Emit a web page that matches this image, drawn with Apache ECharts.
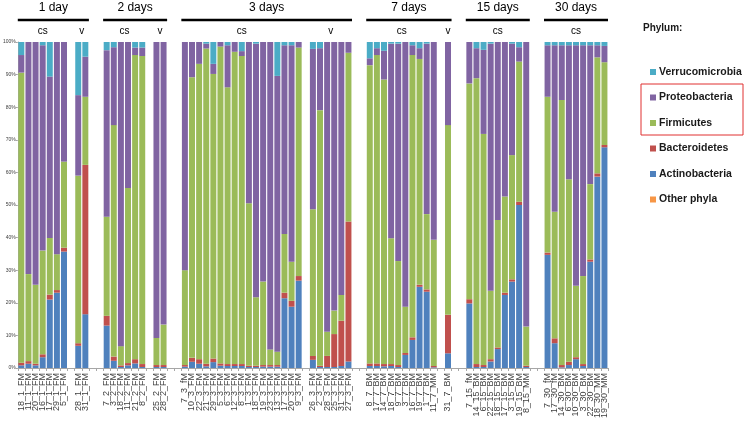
<!DOCTYPE html>
<html><head><meta charset="utf-8">
<script src="https://cdn.jsdelivr.net/npm/echarts@6/dist/echarts.min.js"></script>
<style>html,body{margin:0;padding:0;background:#fff}#c{width:745px;height:421px}</style>
</head><body><div id="c"></div>
<script>
// ---- group structure ----
const groupTitles = ['1 day', '2 days', '3 days', '7 days', '15 days', '30 days'];
const day1cs = ['18_1_FM','11_1_FM','20_1_FM','16_1_FM','17_1_FM','29_1_FM','5_1_FM'];
const day1v = ['28_1_FM','31_1_FM'];
const day2cs = ['7_2_FM','3_2_FM','18_2_FM','11_2_FM','21_2_FM','8_2_FM'];
const day2v = ['25_2_FM','28_2_FM'];
const day3cs = ['7_3_fM','10_3_FM','22_3_FM','21_3_FM','29_3_FM','5_3_FM','6_3_FM','12_3_FM','8_3_FM','1_3_FM','18_3_FM','19_3_FM','23_3_FM','13_3_FM','17_3_FM','20_3_FM','9_3_FM'];
const day3v = ['26_3_FM','2_3_FM','28_3_FM','25_3_FM','31_3_FM','27_3_FM'];
const day7cs = ['8_7_BM','17_7_BM','14_7_BM','18_7_BM','9_7_BM','3_7_BM','16_7_BM','19_7_BM','1_7_BM','11_7_MM'];
const day7v = ['31_7_BM'];
const day15cs = ['7_15_fM','14_15_BM','6_15_BM','22_15_BM','18_15_BM','17_15_BM','3_15_BM','19_15_BM','8_15_MM'];
const day30cs = ['7_30_fM','17_30_fM','14_30_BM','6_30_BM','10_30_BM','3_30_BM','22_30_BM','18_30_MM','19_30_MM'];
const subgroups = [
  [0,'cs',day1cs],[0,'v',day1v],[1,'cs',day2cs],[1,'v',day2v],[2,'cs',day3cs],[2,'v',day3v],
  [3,'cs',day7cs],[3,'v',day7v],[4,'cs',day15cs],[5,'cs',day30cs]
];

// ---- relative abundance (%) per sample, in sample order ----
const otherPhyla = [
  0,0,0,0,0,0,0, 0,0,
  0,0,0,0,0,0, 0,0,
  0,0,0,0,0,0,0,0,0,0,0,0,0,0,0,0,0, 0,0,0,0,0,0,
  0,0,0,0,0,0,0,0,0,0, 0,
  0,0,0,0,0,0,0,0,0,
  0,0,0,0,0,0,0,0,0];
const actinobacteria = [
  0.8,1.3,0.8,3.3,21,23.1,35.7, 6.8,16.5,
  13,2.2,0.3,0.8,1.4,0.3, 0.3,0.3,
  0.4,1.9,1.3,0.5,1.8,0.7,0.6,0.6,0.6,0.3,0.3,0.4,0.4,0.4,21.4,18.8,26.8, 2.5,0.3,0.3,0.3,0.6,2,
  0.6,0.6,0.5,0.6,0.3,4,8.6,24.9,23.4,0.2, 4.5,
  19.8,0.3,0.3,2,5.8,22.4,26.5,50,0.3,
  34.7,7.6,0.2,0.9,2.7,0.6,32.6,58.7,67.7];
const bacteroidetes = [
  0.8,0.8,0.5,0.9,1.5,0.8,1.2, 0.8,45.8,
  3,1.3,0.5,0.7,1.3,0.9, 0.6,0.6,
  0.5,1.2,1.4,0.8,1.1,0.7,0.6,0.6,0.6,0.4,0.4,0.5,0.5,0.5,1.7,1.8,1.4, 1.2,0.4,3.4,10.1,13.9,42.9,
  0.8,0.8,0.7,0.6,0.6,0.6,0.8,0.6,0.7,0.4, 11.8,
  1.3,0.9,0.6,0.7,0.5,0.7,0.7,1,0.4,
  0.7,1.5,0.7,1,0.6,0.6,0.7,1,0.7];
const firmicutes = [
  89,26.7,24.2,31.8,17.4,11,26.4, 51.4,20.9,
  30.4,71,5.9,53.7,93.3,94.5, 8.3,12.4,
  29.1,86.1,90.6,96.7,87.3,97.2,84.9,95.8,94.5,49.8,21,25.6,4.8,4.1,18,12,70.1, 45,78.4,7.4,7.2,7.9,51.8,
  91.5,94.6,87.3,38.6,31.9,14.2,86.6,69.3,23.1,38.7, 58.2,
  66.2,87.7,70.9,21,39.1,29.5,38.1,43,12,
  47.8,38.8,81.3,56,21.9,27,23.1,35.6,25.4];
const proteobacteria = [
  5.4,71.2,74.5,63,49.5,65.1,36.7, 24.7,12.3,
  51.1,23.9,93.3,44.8,2.3,2.6, 90.8,86.7,
  70,10.8,6.7,1.5,3.1,1.4,12.9,3,1.5,49.5,77.8,73.5,94.3,84.6,57.9,66.4,1.7, 49.2,19,88.9,82.4,77.6,3.3,
  2.1,2.1,8.8,59.7,66.7,81.2,3,3.3,52.3,60.7, 25.5,
  12.7,9.2,25.8,75.8,54.6,47.4,34.2,4.4,87.3,
  15.8,51.1,16.8,41.1,73.8,70.8,42.6,3.7,5];
const verrucomicrobia = [
  4,0,0,1,10.6,0,0, 16.3,4.5,
  2.5,1.6,0,0,1.7,1.7, 0,0,
  0,0,0,0.5,6.7,0,1,0,2.8,0,0.5,0,0,10.4,1,1,0, 2.1,1.9,0,0,0,0,
  5,1.9,2.7,0.5,0.5,0,1,1.9,0.5,0, 0,
  0,1.9,2.4,0.5,0,0,0.5,1.6,0,
  1,1,1,1,1,1,1,1,1.2];
const yTicks = [0,10,20,30,40,50,60,70,80,90,100];

const seriesDefs = [
  ['Other phyla', otherPhyla, '#f79646'],
  ['Actinobacteria', actinobacteria, '#4f81bd'],
  ['Bacteroidetes', bacteroidetes, '#c0504d'],
  ['Firmicutes', firmicutes, '#9bbb59'],
  ['Proteobacteria', proteobacteria, '#8064a2'],
  ['Verrucomicrobia', verrucomicrobia, '#4bacc6']
];

// ---- build category axis with empty gap slots ----
const cats = [];
const sampleSlot = [];
const subRanges = [];
let gapId = 0;
subgroups.forEach((sg, k) => {
  if (k > 0) {
    const nGap = subgroups[k-1][0] === sg[0] ? 1 : 2;
    for (let i = 0; i < nGap; i++) cats.push('__gap' + (gapId++));
  }
  const first = cats.length;
  sg[2].forEach(s => { sampleSlot.push(cats.length); cats.push(s); });
  subRanges.push([first, cats.length - 1]);
});
function expand(vals) {
  const out = cats.map(() => '-');
  vals.forEach((v, i) => { out[sampleSlot[i]] = v; });
  return out;
}

const FONT = "'Liberation Sans', Arial, sans-serif";
const chart = echarts.init(document.getElementById('c'), null, {renderer: 'canvas'});
const option = {
  animation: false,
  backgroundColor: '#fff',
  grid: {left: 13, right: 137, top: 42, bottom: 53, containLabel: false},
  xAxis: {
    type: 'category', data: cats,
    axisLine: {lineStyle: {color: '#a6a6a6', width: 1}},
    axisTick: {show: true, interval: 0, length: 3, lineStyle: {color: '#a6a6a6'}},
    axisLabel: {
      interval: 0, rotate: 90, margin: 5, fontSize: 9, color: '#404040', fontFamily: FONT,
      formatter: v => v.indexOf('__gap') === 0 ? '' : v
    }
  },
  yAxis: {
    type: 'value', min: 0, max: 100, interval: 10,
    axisLine: {show: true, lineStyle: {color: '#a6a6a6'}},
    axisTick: {show: true, length: 2, lineStyle: {color: '#a6a6a6'}},
    splitLine: {show: false},
    axisLabel: {fontSize: 5, color: '#404040', margin: 2, fontFamily: FONT,
      formatter: v => yTicks.indexOf(v) >= 0 ? v + '%' : ''}
  },
  legend: {
    orient: 'vertical', left: 645, top: 60,
    data: ['Verrucomicrobia', 'Proteobacteria', 'Firmicutes', 'Bacteroidetes', 'Actinobacteria', 'Other phyla'],
    itemWidth: 6, itemHeight: 6, itemGap: 11.5, icon: 'rect',
    textStyle: {fontSize: 10.5, fontWeight: 'bold', color: '#1a1a1a', fontFamily: FONT, lineHeight: 14, padding: [0,0,0,-2]}
  },
  series: seriesDefs.map(([name, vals, color]) => ({
    name, type: 'bar', stack: 'phyla', data: expand(vals),
    barCategoryGap: '16%',
    itemStyle: {color},
    emphasis: {disabled: true}
  }))
};
chart.setOption(option);

// ---- header annotations placed from the axis scale ----
const px = i => chart.convertToPixel({xAxisIndex: 0}, i);
const half = (px(1) - px(0)) / 2;
const gfx = [];
groupTitles.forEach((t, g) => {
  const idx = subgroups.map((s, k) => s[0] === g ? k : -1).filter(k => k >= 0);
  const x0 = px(subRanges[idx[0]][0]) - half;
  const x1 = px(subRanges[idx[idx.length - 1]][1]) + half;
  gfx.push({type: 'line', shape: {x1: x0, y1: 20, x2: x1, y2: 20}, style: {stroke: '#000', lineWidth: 2.5}});
  gfx.push({type: 'text', x: (x0 + x1) / 2, y: 8, style: {text: t, fontSize: 12, fontFamily: FONT, fill: '#000', align: 'center', verticalAlign: 'middle'}});
});
subgroups.forEach((sg, k) => {
  const xc = (px(subRanges[k][0]) + px(subRanges[k][1])) / 2;
  gfx.push({type: 'text', x: xc, y: 31, style: {text: sg[1], fontSize: 10, fontFamily: FONT, fill: '#000', align: 'center', verticalAlign: 'middle'}});
});
gfx.push({type: 'text', x: 643, y: 28, style: {text: 'Phylum:', fontSize: 10, fontWeight: 'bold', fontFamily: FONT, fill: '#1a1a1a', verticalAlign: 'middle'}});
gfx.push({type: 'rect', shape: {x: 641, y: 84, width: 102, height: 51}, style: {fill: 'none', stroke: '#e03030', lineWidth: 1}});
chart.setOption({graphic: gfx});
</script>
</body></html>
